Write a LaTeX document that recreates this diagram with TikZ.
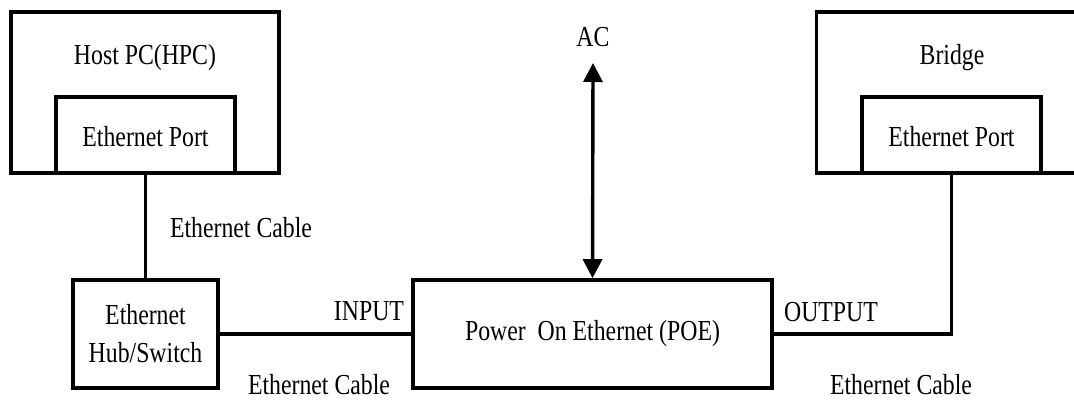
\documentclass[tikz,border=0pt]{standalone}
\usepackage{fontspec}
\setmainfont{Liberation Serif}[FakeStretch=0.82]
\usetikzlibrary{arrows.meta}
\tikzset{
  box/.style={draw, line width=1.8pt, rectangle, inner sep=0pt},
  lbl/.style={inner sep=0pt, font=\fontsize{14.5}{17}\selectfont, align=center},
  wire/.style={line width=1.8pt}
}
\begin{document}
\begin{tikzpicture}[x=0.5pt, y=-0.5pt]
                \useasboundingbox (0,0) rectangle (1074,401);
                \clip (0,0) rectangle (1074,401);
                % Host PC
                \node[box, minimum width=134pt, minimum height=80.5pt] (hpc) at (145,92.5) {};
                \node[box, minimum width=89.5pt, minimum height=38pt] (hpcport) at (145.5,135) {};
                \node[lbl] (hpctxt) at (145,58) {Host PC(HPC)};
                \node[lbl] (hpcporttxt) at (145.5,137) {Ethernet Port};
                % Bridge (runs past the right edge)
                \node[box, minimum width=137pt, minimum height=80.5pt] (bridge) at (953.5,92.5) {};
                \node[box, minimum width=89.5pt, minimum height=38pt] (brport) at (951.5,135) {};
                \node[lbl] (brtxt) at (952,58) {Bridge};
                \node[lbl] (brporttxt) at (951.5,137) {Ethernet Port};
                % Hub and POE
                \node[box, minimum width=72.5pt, minimum height=54pt, lbl] (hub) at (145.5,334) {Ethernet\\[2pt]Hub/Switch};
                \node[box, minimum width=179.5pt, minimum height=54pt, lbl] (poe) at (592.5,334) {Power\ \ On Ethernet (POE)};
                % AC supply
                \node[lbl] (ac) at (593,37) {AC};
                \coordinate (actip) at (593,63);
                \draw[line width=1.7pt, {Triangle[width=9.5pt,length=9.5pt]}-{Triangle[width=9.5pt,length=9.5pt]}] (actip) -- (poe.north);
                % cables
                \draw[wire] (hpcport.south) -- (hub.north);
                \draw[wire] (hub.east) -- (poe.west);
                \draw[wire] (poe.east) -| (brport.south);
                % cable labels
                \node[lbl] (cab1) at (241,228) {Ethernet Cable};
                \node[lbl] (cab2) at (319,385) {Ethernet Cable};
                \node[lbl] (cab3) at (901,385) {Ethernet Cable};
                \node[lbl] (inp) at (369,311) {INPUT};
                \node[lbl] (outp) at (831,312) {OUTPUT};
            \end{tikzpicture}
\end{document}
